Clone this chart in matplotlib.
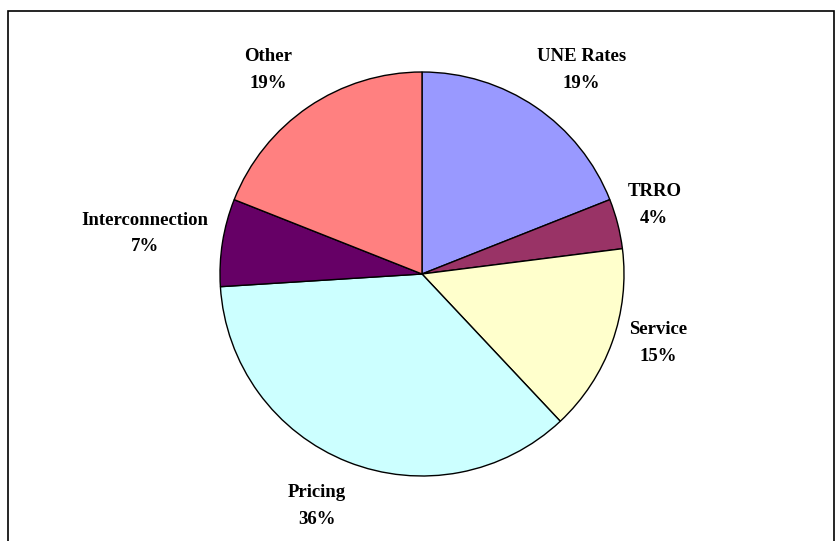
import matplotlib
matplotlib.use("Agg")
import matplotlib.pyplot as plt
from matplotlib.patches import Rectangle

# data
categories = ["UNE Rates", "TRRO", "Service", "Pricing", "Interconnection", "Other"]
shares = [19, 4, 15, 36, 7, 19]
colors = ["#9999FF", "#993366", "#FFFFCC", "#CCFFFF", "#660066", "#FF8080"]

# label placement (in pie radius units), tuned to the reference
label_xy = [(0.79, 1.01), (1.15, 0.34), (1.17, -0.34),
            (-0.52, -1.15), (-1.37, 0.20), (-0.76, 1.01)]

W, H = 836, 541
fig = plt.figure(figsize=(W / 100, H / 100), dpi=100)
ax = fig.add_axes([0, 0, 1, 1])

wedges, texts = ax.pie(shares, colors=colors, startangle=90, counterclock=False,
                       labels=[f"{c}\n{s}%" for c, s in zip(categories, shares)],
                       wedgeprops=dict(edgecolor="black", linewidth=1.0))

for t, (x, y) in zip(texts, label_xy):
    t.set_position((x, y))
    t.set_ha("center")
    t.set_va("center")
    t.set_fontfamily("Liberation Serif")
    t.set_fontweight("bold")
    t.set_fontsize(13.5)
    t.set_linespacing(1.75)

# pie radius 202 px, centre at (422, 274) px from top-left
r = 202
cx, cy = 422, 274
ax.set_xlim(-cx / r, (W - cx) / r)
ax.set_ylim(-(H - cy) / r, cy / r)
ax.set_aspect("auto")
ax.axis("off")

# chart-area border
fig.patches.append(Rectangle((8 / W, -0.01), (834 - 8) / W, (H - 11) / H + 0.01,
                             transform=fig.transFigure, fill=False,
                             edgecolor="black", linewidth=1.2))

fig.savefig("out.png", dpi=100)
